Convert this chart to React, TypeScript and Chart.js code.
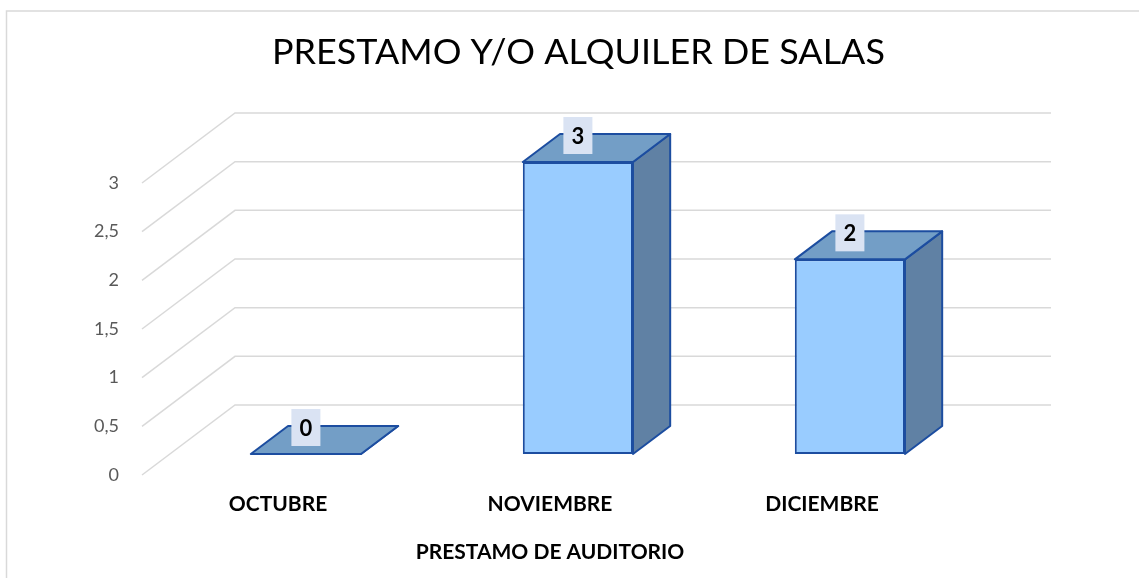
import React, { useEffect, useRef } from "react";
import { Chart, registerables } from "chart.js";

Chart.register(...registerables);

const categories = ["OCTUBRE", "NOVIEMBRE", "DICIEMBRE"];
const values = [0, 3, 2];
const yTickLabels = ["0", "0,5", "1", "1,5", "2", "2,5", "3"];
const chartTitle = "PRESTAMO Y/O ALQUILER DE SALAS";
const xAxisTitle = "PRESTAMO DE AUDITORIO";

// style constants
const DEPTH_X = 93;
const DEPTH_Y = -70;
const BAR_FRONT = 0.3;
const BAR_DEPTH = 0.4;
const FRONT_COLOR = "#99CCFF";
const TOP_COLOR = "#739EC6";
const SIDE_COLOR = "#6081A4";
const EDGE_COLOR = "#1C4DA0";
const GRID_COLOR = "#D9D9D9";
const LABEL_BOX = "#DAE3F3";
const FONT = "Lato, 'Open Sans', sans-serif";

const chart3d = {
  id: "chart3d",
  beforeDraw(chart: any) {
    const ctx = chart.ctx;
    ctx.save();
    ctx.fillStyle = "#FFFFFF";
    ctx.fillRect(0, 0, chart.width, chart.height);
    ctx.strokeStyle = GRID_COLOR;
    ctx.lineWidth = 1.5;
    ctx.strokeRect(6.5, 11, chart.width + 50, chart.height + 50);
    ctx.restore();
  },
  beforeDatasetsDraw(chart: any) {
    const ctx = chart.ctx;
    const ys = chart.scales.y;
    const { left, right } = chart.chartArea;
    ctx.save();
    ctx.strokeStyle = GRID_COLOR;
    ctx.lineWidth = 1.5;
    ys.ticks.forEach((t: any) => {
      const py = ys.getPixelForValue(t.value);
      ctx.beginPath();
      ctx.moveTo(left, py);
      ctx.lineTo(left + DEPTH_X, py + DEPTH_Y);
      ctx.lineTo(right + DEPTH_X, py + DEPTH_Y);
      ctx.stroke();
    });
    ctx.restore();
    ctx.save();
    ctx.translate(DEPTH_X * BAR_FRONT, DEPTH_Y * BAR_FRONT);
  },
  afterDatasetsDraw(chart: any) {
    const ctx = chart.ctx;
    ctx.restore();
    ctx.save();
    ctx.translate(DEPTH_X * BAR_FRONT, DEPTH_Y * BAR_FRONT);
    const bx = DEPTH_X * BAR_DEPTH;
    const by = DEPTH_Y * BAR_DEPTH;
    const meta = chart.getDatasetMeta(0);
    ctx.lineJoin = "round";
    ctx.lineWidth = 2;
    ctx.strokeStyle = EDGE_COLOR;
    meta.data.forEach((el: any) => {
      const { x, y, base, width } = el.getProps(["x", "y", "base", "width"], true);
      const l = x - width / 2;
      const r = x + width / 2;
      const top = Math.min(y, base);
      const bottom = base;
      // side face
      ctx.beginPath();
      ctx.moveTo(r, top);
      ctx.lineTo(r + bx, top + by);
      ctx.lineTo(r + bx, bottom + by);
      ctx.lineTo(r, bottom);
      ctx.closePath();
      ctx.fillStyle = SIDE_COLOR;
      ctx.fill();
      ctx.stroke();
      // top face
      ctx.beginPath();
      ctx.moveTo(l, top);
      ctx.lineTo(l + bx, top + by);
      ctx.lineTo(r + bx, top + by);
      ctx.lineTo(r, top);
      ctx.closePath();
      ctx.fillStyle = TOP_COLOR;
      ctx.fill();
      ctx.stroke();
    });
    // data labels
    ctx.font = `bold 22px ${FONT}`;
    ctx.textAlign = "center";
    ctx.textBaseline = "middle";
    meta.data.forEach((el: any, i: number) => {
      const { x, y, base } = el.getProps(["x", "y", "base"], true);
      const top = Math.min(y, base);
      const w = 29;
      const h = 37;
      const bottomY = top - 8;
      ctx.fillStyle = LABEL_BOX;
      ctx.fillRect(x - w / 2, bottomY - h, w, h);
      ctx.fillStyle = "#000000";
      ctx.fillText(String(values[i]), x, bottomY - h / 2 + 1);
    });
    ctx.restore();
  },
  afterDraw(chart: any) {
    const ctx = chart.ctx;
    ctx.save();
    ctx.font = `normal 34px ${FONT}`;
    const w = ctx.measureText(chartTitle).width;
    ctx.translate(578.4, 64.3);
    ctx.scale(613 / w, 1);
    ctx.textAlign = "center";
    ctx.textBaseline = "alphabetic";
    ctx.fillStyle = "#000000";
    ctx.fillText(chartTitle, 0, 0);
    ctx.restore();
  },
};

export default function App() {
  const ref = useRef<HTMLCanvasElement>(null);
  useEffect(() => {
    if (!ref.current) return;
    const chart = new Chart(ref.current, {
      type: "bar",
      data: {
        labels: categories,
        datasets: [
          {
            data: values,
            backgroundColor: FRONT_COLOR,
            borderColor: EDGE_COLOR,
            borderWidth: 2,
            borderSkipped: false,
            barPercentage: 0.405,
            categoryPercentage: 1,
            clip: false,
          } as any,
        ],
      },
      options: {
        responsive: false,
        animation: false,
        layout: { padding: { top: 183, left: 0, right: 181, bottom: 0 } },
        plugins: {
          legend: { display: false },
          title: { display: false },
          tooltip: { enabled: false },
        },
        scales: {
          x: {
            grid: { display: false, drawTicks: false },
            border: { display: false },
            ticks: {
              color: "#000000",
              font: { family: FONT, size: 21, weight: "bold" },
              padding: 17,
              maxRotation: 0,
            },
            title: {
              display: true,
              text: xAxisTitle,
              color: "#000000",
              font: { family: FONT, size: 21, weight: "bold" },
              padding: { top: 0, bottom: 13 },
            },
            afterFit(scale: any) {
              scale.height = 103;
            },
          },
          y: {
            min: 0,
            max: 3,
            grid: { display: false, drawTicks: false },
            border: { display: false },
            ticks: {
              stepSize: 0.5,
              color: "#595959",
              font: { family: FONT, size: 18 },
              padding: 23,
              callback: (_v: any, i: number) => yTickLabels[i],
            },
            afterFit(scale: any) {
              scale.width = 142;
            },
          },
        },
      },
      plugins: [chart3d],
    });
    return () => chart.destroy();
  }, []);
  return (
    <div style={{ position: "absolute", left: 0, top: 0, width: 1139, height: 578 }}>
      <canvas ref={ref} width={1139} height={578} style={{ display: "block" }} />
    </div>
  );
}
